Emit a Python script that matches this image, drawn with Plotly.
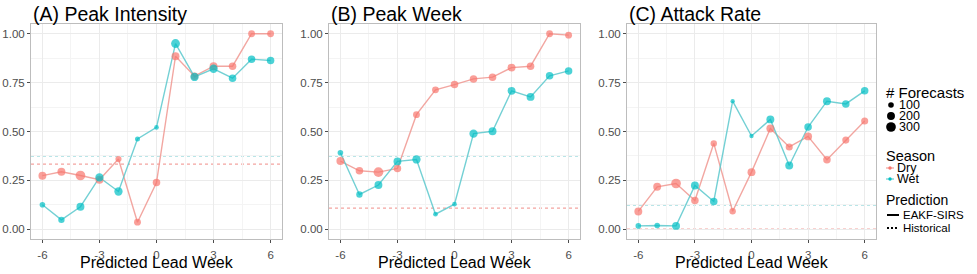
import plotly.graph_objects as go

W, H = 977, 274

lead_weeks = [-6, -5, -4, -3, -2, -1, 0, 1, 2, 3, 4, 5, 6]
x_ticks = [-6, -3, 0, 3, 6]
y_ticks = [0.0, 0.25, 0.5, 0.75, 1.0]
y_tick_labels = ["0.00", "0.25", "0.50", "0.75", "1.00"]

panel_titles = ["(A) Peak Intensity", "(B) Peak Week", "(C) Attack Rate"]
x_title = "Predicted Lead Week"

# Peak intensity
pi_dry = [0.274, 0.294, 0.275, 0.253, 0.359, 0.036, 0.239, 0.885, 0.783, 0.834, 0.834, 1.0, 1.0]
pi_wet = [0.125, 0.048, 0.115, 0.265, 0.193, 0.462, 0.521, 0.950, 0.779, 0.821, 0.773, 0.870, 0.863]
pi_dry_n = [200, 200, 300, 200, 120, 150, 180, 200, 180, 200, 180, 150, 150]
pi_wet_n = [100, 130, 200, 220, 220, 80, 70, 250, 220, 220, 180, 180, 180]
pi_hist = {"Dry": 0.333, "Wet": 0.376}

# Peak week
pw_dry = [0.349, 0.299, 0.292, 0.311, 0.586, 0.713, 0.740, 0.769, 0.778, 0.827, 0.834, 1.0, 0.993]
pw_wet = [0.391, 0.178, 0.226, 0.347, 0.357, 0.077, 0.128, 0.489, 0.501, 0.708, 0.677, 0.785, 0.810]
pw_dry_n = [200, 180, 300, 180, 150, 150, 180, 180, 180, 200, 180, 150, 150]
pw_wet_n = [100, 130, 200, 200, 220, 70, 70, 220, 200, 200, 200, 180, 180]
pw_hist = {"Dry": 0.108, "Wet": 0.376}

# Attack rate
ar_dry = [0.091, 0.217, 0.234, 0.147, 0.439, 0.092, 0.292, 0.515, 0.421, 0.475, 0.356, 0.456, 0.554]
ar_wet = [0.017, 0.019, 0.017, 0.224, 0.142, 0.655, 0.477, 0.562, 0.326, 0.523, 0.655, 0.641, 0.708]
ar_dry_n = [200, 200, 300, 180, 130, 130, 200, 200, 160, 200, 180, 160, 160]
ar_wet_n = [100, 100, 200, 200, 180, 60, 60, 200, 200, 180, 200, 180, 180]
ar_hist = {"Dry": 0.0, "Wet": 0.125}

size_legend_values = [100, 200, 300]
season_names = ["Dry", "Wet"]
prediction_names = ["EAKF-SIRS", "Historical"]

panels = [
    (pi_dry, pi_wet, pi_dry_n, pi_wet_n, pi_hist),
    (pw_dry, pw_wet, pw_dry_n, pw_wet_n, pw_hist),
    (ar_dry, ar_wet, ar_dry_n, ar_wet_n, ar_hist),
]

COL = {"Dry": "#F8766D", "Wet": "#00BFC4"}
LINE_COL = {"Dry": "rgba(240,150,145,0.85)", "Wet": "rgba(90,200,205,0.85)"}
HIST_COL = {"Dry": "rgba(240,140,135,0.8)", "Wet": "rgba(80,190,195,0.8)"}
FONT = "Liberation Sans, Arial, sans-serif"


def msize(n):
    return 0.56 * n ** 0.5


def px(x):
    return x / W


def py(y):
    return 1 - y / H


domains_x = [(31, 282), (329, 580), (627, 876)]
dom_y = [py(239), py(24)]

fig = go.Figure()
shapes = []
annotations = []

for i, (dry, wet, dry_n, wet_n, hist) in enumerate(panels):
    k = "" if i == 0 else str(i + 1)
    xa, ya = "x" + k, "y" + k
    for name, vals in (("Dry", dry), ("Wet", wet)):
        fig.add_trace(go.Scatter(x=lead_weeks, y=vals, mode="lines", xaxis=xa, yaxis=ya,
                                 line=dict(color=LINE_COL[name], width=1.4),
                                 showlegend=False, hoverinfo="skip"))
    for name, vals, ns in (("Dry", dry, dry_n), ("Wet", wet, wet_n)):
        fig.add_trace(go.Scatter(x=lead_weeks, y=vals, mode="markers", xaxis=xa, yaxis=ya,
                                 marker=dict(color=COL[name], size=[msize(n) for n in ns],
                                             line=dict(width=0)),
                                 showlegend=False, name=name))
    for name in season_names:
        shapes.append(dict(type="line", xref=xa + " domain", yref=ya, x0=0, x1=1,
                           y0=hist[name], y1=hist[name], layer="below",
                           line=dict(color=HIST_COL[name], width=1.3, dash="3px,3px")))
    axis_common = dict(showline=True, mirror=True, linecolor="#BDBDBD", linewidth=1,
                       showgrid=True, gridcolor="#EBEBEB", gridwidth=1, zeroline=False,
                       ticks="outside", ticklen=3, tickcolor="#4D4D4D", tickwidth=1,
                       tickfont=dict(family=FONT, size=11.5, color="#4D4D4D"))
    x0, x1 = domains_x[i]
    fig.layout["xaxis" + k] = dict(
        domain=[px(x0), px(x1)], anchor=ya, range=[-6.6, 6.6],
        tickvals=x_ticks, ticktext=[str(t) for t in x_ticks], ticklabelstandoff=2,
        minor=dict(tickvals=[-4.5, -1.5, 1.5, 4.5], showgrid=True, gridcolor="#F4F4F4", gridwidth=0.6, ticks=""),
        **axis_common)
    fig.layout["yaxis" + k] = dict(
        domain=dom_y, anchor=xa, range=[-0.05, 1.05],
        tickvals=y_ticks, ticktext=y_tick_labels,
        minor=dict(tickvals=[0.125, 0.375, 0.625, 0.875], showgrid=True, gridcolor="#F4F4F4", gridwidth=0.6, ticks=""),
        **axis_common)
    annotations.append(dict(text=panel_titles[i], xref="paper", yref="paper",
                            x=px(x0), y=py(14), xanchor="left", yanchor="middle",
                            showarrow=False, font=dict(family=FONT, size=19.5, color="black")))
    annotations.append(dict(text=x_title, xref=xa + " domain", yref="paper",
                            x=0.5, y=py(262), xanchor="center", yanchor="middle",
                            showarrow=False, font=dict(family=FONT, size=16, color="black")))

# Manual legend
LX = 886


def ltext(t, x, y, size):
    annotations.append(dict(text=t, xref="paper", yref="paper", x=px(x), y=py(y),
                            xanchor="left", yanchor="middle", showarrow=False,
                            font=dict(family=FONT, size=size, color="black")))


ltext("# Forecasts", LX - 2, 92, 15)
for j, (v, yy) in enumerate(zip(size_legend_values, [105, 116, 127])):
    r = msize(v) / 2
    shapes.append(dict(type="circle", xref="paper", yref="paper",
                       x0=px(891 - r), x1=px(891 + r), y0=py(yy + r), y1=py(yy - r),
                       fillcolor="black", line=dict(width=0)))
    ltext(str(v), 897, yy, 12.5)

ltext("Season", LX - 2, 156, 14.5)
for name, yy in zip(season_names, [168, 179]):
    shapes.append(dict(type="line", xref="paper", yref="paper", x0=px(886), x1=px(894),
                       y0=py(yy), y1=py(yy), line=dict(color=LINE_COL[name], width=1.3)))
    r = 1.7
    shapes.append(dict(type="circle", xref="paper", yref="paper",
                       x0=px(890 - r), x1=px(890 + r), y0=py(yy + r), y1=py(yy - r),
                       fillcolor=COL[name], line=dict(width=0)))
    ltext(name, 895, yy, 12.5)

ltext("Prediction", LX - 2, 200, 14)
for name, yy, dash in zip(prediction_names, [215, 228], ["solid", "2px,2px"]):
    shapes.append(dict(type="line", xref="paper", yref="paper", x0=px(887), x1=px(899),
                       y0=py(yy), y1=py(yy), line=dict(color="black", width=2, dash=dash)))
    ltext(name, 901, yy, 11.5)

fig.update_layout(width=W, height=H, margin=dict(l=0, r=0, t=0, b=0),
                  plot_bgcolor="white", paper_bgcolor="white",
                  shapes=shapes, annotations=annotations, showlegend=False,
                  font=dict(family=FONT))

fig.write_html("out.html", config={"displayModeBar": False},
               post_script="document.body.style.margin='0';document.body.style.overflow='hidden';")
